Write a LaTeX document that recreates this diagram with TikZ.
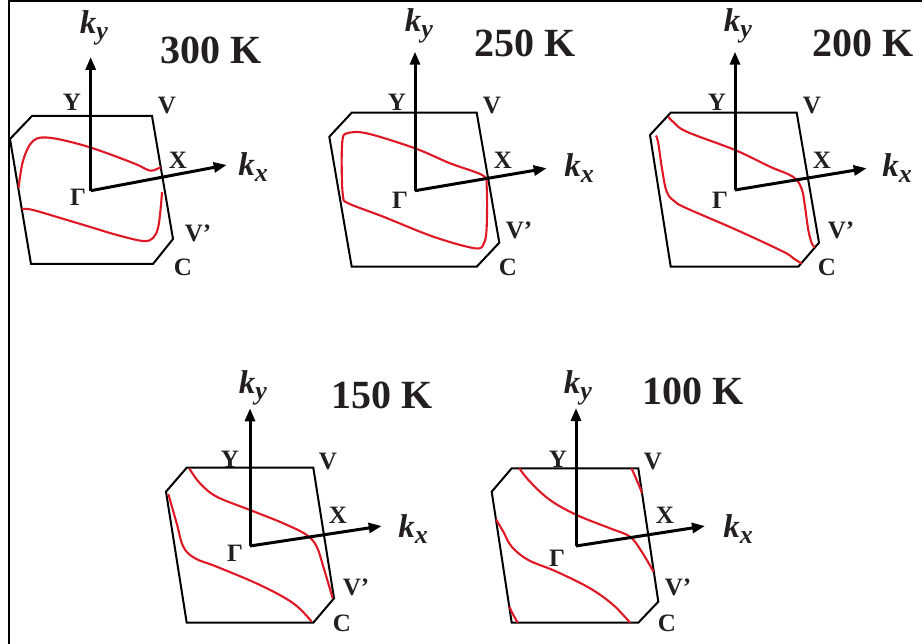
\documentclass[tikz,border=0pt]{standalone}
\usepackage{fontspec}
\setmainfont{Liberation Serif}
\usetikzlibrary{arrows.meta}
\definecolor{fsred}{RGB}{222,24,36}
\definecolor{ink}{RGB}{35,31,32}

\tikzset{
  bz/.style={draw=black, line width=2pt, line join=miter},
  fs/.style={draw=fsred, line width=2.1pt},
  axis/.style={line width=3pt, -{Triangle[length=13pt,width=10pt]}},
  kpt/.style={text=ink, font=\fontsize{25}{25}\selectfont\bfseries, inner sep=0pt},
  klab/.style={text=ink, font=\fontsize{33}{33}\selectfont\bfseries\itshape, inner sep=0pt},
  temp/.style={text=ink, font=\fontsize{40}{40}\selectfont\bfseries, inner sep=0pt},
}
\newcommand{\kyl}{k\raisebox{-0.2em}{\fontsize{26}{26}\selectfont y}}
\newcommand{\kxl}{k\raisebox{-0.2em}{\fontsize{26}{26}\selectfont x}}

\begin{document}
\begin{tikzpicture}[x=1pt, y=-1pt]
    \useasboundingbox (0,0) rectangle (924,644);
    % frame
    \draw[line width=1.8pt] (9.3,0) -- (9.3,644);
    \draw[line width=1.8pt] (8.4,1) -- (922,1);

    % 300 K
    \draw[bz] (10,139) -- (32,116) -- (152,116) -- (173,239) -- (153,264) -- (31,264) -- cycle;
    \draw[fs] plot[smooth, tension=0.6] coordinates {(18.5,188) (22,165) (27,150) (33,141) (42,137.5) (60,139.5) (92,148) (133,163) (148,170) (154,170.3) (158,168.5) (160.8,167.5)};
    \draw[fs] plot[smooth, tension=0.6] coordinates {(21.8,209) (33,210) (67,220) (92,227.5) (117,235) (143,241) (153,238) (158,228) (160.5,210) (162,192)};
    \coordinate (G1) at (90.7,190.7);
    \coordinate (ky1tip) at (90.7,57);
    \coordinate (kx1tip) at (226.7,165);
    \draw[axis] (G1) -- (ky1tip);
    \draw[axis] (G1) -- (kx1tip);
    \node[klab] (ky1) at (94,28) {\kyl};
    \node[klab] (kx1) at (253,167) {\kxl};
    \node[temp] (T1) at (211,50) {300 K};
    \node[kpt] (Y1) at (72,102) {Y};
    \node[kpt] (V1) at (167,106) {V};
    \node[kpt] (X1) at (178,160) {X};
    \node[kpt] (Gam1) at (78,197) {Γ};
    \node[kpt] (Vp1) at (198,233) {V’};
    \node[kpt] (C1) at (183,267) {C};

    % 250 K
    \draw[bz] (329.3,136.7) -- (351.7,112.7) -- (476.7,112.7) -- (499.3,242.7) -- (476.7,266.7) -- (351.7,266.7) -- cycle;
    \draw[fs] plot[smooth cycle, tension=0.55] coordinates {(347,133.3) (366.7,133.3) (415,148.3) (450,163.3) (483,175.5) (486.7,186.7) (486.7,226.7) (484,243) (475,248.3) (433.3,236.7) (383.3,216.7) (348.3,203.3) (343,196) (341.7,166.7) (342.5,140)};
    \coordinate (G2) at (415,190.7);
    \coordinate (ky2tip) at (415,51.7);
    \coordinate (kx2tip) at (546.7,168.3);
    \draw[axis] (G2) -- (ky2tip);
    \draw[axis] (G2) -- (kx2tip);
    \node[klab] (ky2) at (419,26) {\kyl};
    \node[klab] (kx2) at (579,168) {\kxl};
    \node[temp] (T2) at (525,43) {250 K};
    \node[kpt] (Y2) at (397,102) {Y};
    \node[kpt] (V2) at (492,106) {V};
    \node[kpt] (X2) at (503,160) {X};
    \node[kpt] (Gam2) at (400,200) {Γ};
    \node[kpt] (Vp2) at (519,230) {V’};
    \node[kpt] (C2) at (508,267) {C};

    % 200 K
    \draw[bz] (650,135) -- (670.7,112.7) -- (796.7,112.7) -- (819,242.7) -- (798.3,266.7) -- (670.7,266.7) -- cycle;
    \draw[fs] plot[smooth, tension=0.6] coordinates {(668.3,116.7) (673.3,122) (686.7,131.7) (735,150) (770,166.7) (793.3,177) (801.7,189) (805,206.7) (808.3,230) (812,244) (815,247)};
    \draw[fs] plot[smooth, tension=0.6] coordinates {(656,135.5) (658.3,143.3) (661.7,166.7) (666.7,191.7) (675,201.7) (686.7,208.3) (736.7,230) (783.3,251.7) (793.3,258.3) (801.7,263.5)};
    \coordinate (G3) at (735,190);
    \coordinate (ky3tip) at (735,51.7);
    \coordinate (kx3tip) at (866.7,168.3);
    \draw[axis] (G3) -- (ky3tip);
    \draw[axis] (G3) -- (kx3tip);
    \node[klab] (ky3) at (738,26) {\kyl};
    \node[klab] (kx3) at (897,168) {\kxl};
    \node[temp] (T3) at (863,43) {200 K};
    \node[kpt] (Y3) at (717,102) {Y};
    \node[kpt] (V3) at (812,106) {V};
    \node[kpt] (X3) at (822,160) {X};
    \node[kpt] (Gam3) at (720,200) {Γ};
    \node[kpt] (Vp3) at (841,230) {V’};
    \node[kpt] (C3) at (827,267) {C};

    % 150 K
    \draw[bz] (166,491.7) -- (186.7,467.7) -- (313.3,467.7) -- (334,598.3) -- (313.3,622.7) -- (186.7,622.7) -- cycle;
    \draw[fs] plot[smooth, tension=0.6] coordinates {(189.3,468.5) (200,483.3) (216.7,496.7) (250,510) (283.3,523.3) (306.7,535) (316.7,546.7) (323.3,566.7) (328.3,583.3) (332.7,598.3)};
    \draw[fs] plot[smooth, tension=0.6] coordinates {(168.3,494) (176.7,523.3) (183.3,546.7) (195,558.3) (216.7,566.7) (260,585) (293.3,603.3) (311.7,621.7)};
    \coordinate (G4) at (250,546);
    \coordinate (ky4tip) at (250,408.3);
    \coordinate (kx4tip) at (381.7,526);
    \draw[axis] (G4) -- (ky4tip);
    \draw[axis] (G4) -- (kx4tip);
    \node[klab] (ky4) at (253,388) {\kyl};
    \node[klab] (kx4) at (413,529) {\kxl};
    \node[temp] (T4) at (382,395) {150 K};
    \node[kpt] (Y4) at (230,459) {Y};
    \node[kpt] (V4) at (328,462) {V};
    \node[kpt] (X4) at (338,515) {X};
    \node[kpt] (Gam4) at (235,553) {Γ};
    \node[kpt] (Vp4) at (356,587) {V’};
    \node[kpt] (C4) at (342,623) {C};

    % 100 K
    \draw[bz] (491.7,491.7) -- (511.7,468.3) -- (638.3,468.3) -- (658.3,601.7) -- (638.3,622.7) -- (511.7,622.7) -- cycle;
    \draw[fs] plot[smooth, tension=0.6] coordinates {(519.3,468.3) (530,481.7) (550,500) (576.7,515) (610,528.3) (630,536.7) (641.7,551.7) (653.5,571.7)};
    \draw[fs] plot[smooth, tension=0.6] coordinates {(496,519.3) (503.3,531.7) (511.7,546.7) (528.3,560) (556.7,571.7) (590,588.3) (613.3,605) (630,622.7)};
    \draw[fs] (631.5,468.3) .. controls (635,476) and (639,485) .. (642,493);
    \draw[fs] (509.3,606.7) .. controls (512,613) and (515,618) .. (517.7,622.7);
    \coordinate (G5) at (576,546);
    \coordinate (ky5tip) at (576,408);
    \coordinate (kx5tip) at (705,526);
    \draw[axis] (G5) -- (ky5tip);
    \draw[axis] (G5) -- (kx5tip);
    \node[klab] (ky5) at (578,388) {\kyl};
    \node[klab] (kx5) at (738,529) {\kxl};
    \node[temp] (T5) at (693,391) {100 K};
    \node[kpt] (Y5) at (558,459) {Y};
    \node[kpt] (V5) at (653,462) {V};
    \node[kpt] (X5) at (665,515) {X};
    \node[kpt] (Gam5) at (557,558) {Γ};
    \node[kpt] (Vp5) at (678,587) {V’};
    \node[kpt] (C5) at (667,623) {C};
\end{tikzpicture}
\end{document}
